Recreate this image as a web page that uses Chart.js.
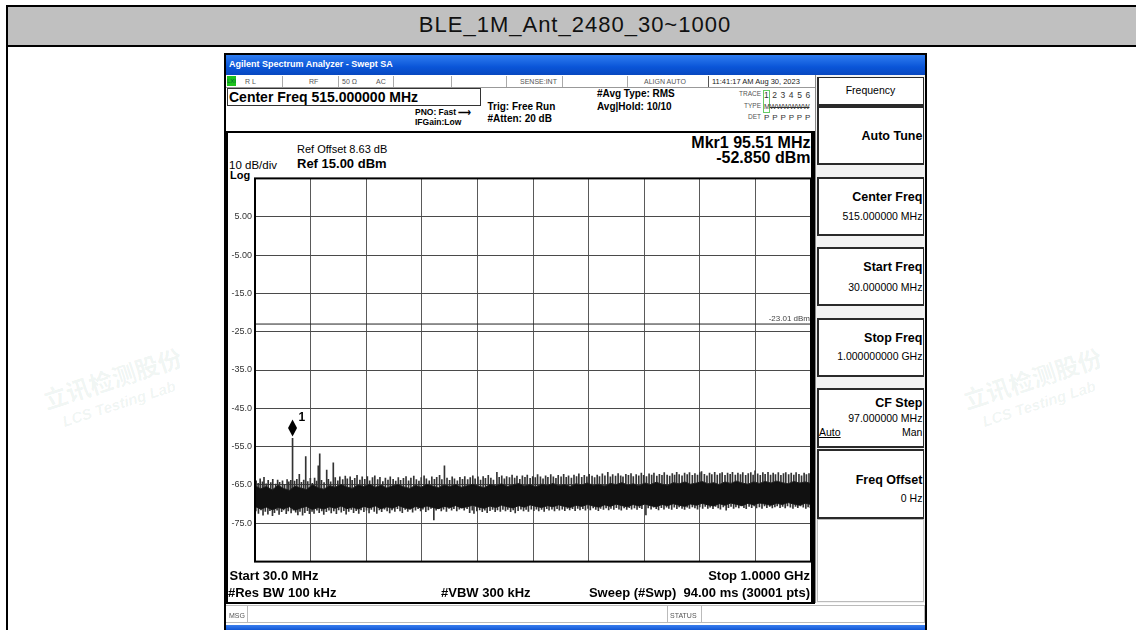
<!DOCTYPE html>
<html lang="en">

<head>
  <meta charset="UTF-8">
  <title>BLE_1M_Ant_2480_30~1000</title>
  <style>
    * { box-sizing: border-box; }
    body { margin: 0; background: #fff; font-family: "Liberation Sans", Arial, sans-serif; }
    #pagina { position: relative; width: 1136px; height: 630px; overflow: hidden; }
    .t { position: absolute; white-space: nowrap; line-height: 1; color: #000; }
    .b { font-weight: bold; }
    .linha { position: absolute; background: #000; }
    .cinza { color: #555; }
    .caixa { position: absolute; left: 817px; width: 107px; background: #fff; border: 2px solid #2a2a2a; border-right-width: 1px; }
    .marca { position: absolute; color: rgba(40, 120, 80, 0.08); transform: rotate(-18deg); font-weight: bold; }
  </style>
</head>

<body>
  <div id="pagina">
    <!-- marcas d'agua -->
    <div class="marca" style="left:40px;top:360px;font:bold 24px 'Noto Sans CJK SC'">立讯检测股份</div>
    <div class="marca" style="left:60px;top:395px;font:italic bold 15px 'Liberation Sans'">LCS Testing Lab</div>
    <div class="marca" style="left:960px;top:360px;font:bold 24px 'Noto Sans CJK SC'">立讯检测股份</div>
    <div class="marca" style="left:980px;top:395px;font:italic bold 15px 'Liberation Sans'">LCS Testing Lab</div>

    <!-- tabela -->
    <div style="position:absolute;left:6px;top:5px;width:1180px;height:700px;border:2px solid #000"></div>
    <div style="position:absolute;left:8px;top:7px;width:1180px;height:40px;background:#c0c0c0;border-bottom:2px solid #000"></div>
    <div class="t" style="left:8px;width:1134px;text-align:center;top:14px;font-size:22px;letter-spacing:1px;color:#111">BLE_1M_Ant_2480_30~1000</div>

    <!-- moldura do analisador -->
    <div style="position:absolute;left:224px;top:53px;width:703px;height:590px;background:#fff;border:2px solid #000"></div>
    <div style="position:absolute;left:226px;top:55px;width:699px;height:20px;background:linear-gradient(#2f7df0,#0a55d8 60%,#0848c0)"></div>
    <div class="t b" style="left:229px;top:60px;font-size:9px;color:#fff">Agilent Spectrum Analyzer - Swept SA</div>

    <!-- linha de status -->
    <div style="position:absolute;left:226px;top:75px;width:589px;height:13px;border-bottom:1px solid #999"></div>
    <div style="position:absolute;left:227px;top:76px;width:9px;height:10px;background:#1cc21c"></div>
    <div class="t" style="left:227px;top:78px;font-size:6px;color:#063">LXI</div>
    <div class="t cinza" style="left:245px;top:77.5px;font-size:7px">R L</div>
    <div class="t cinza" style="left:309px;top:77.5px;font-size:7px">RF</div>
    <div class="t cinza" style="left:342px;top:77.5px;font-size:7px">50 Ω</div>
    <div class="t cinza" style="left:376px;top:77.5px;font-size:7px">AC</div>
    <div class="t cinza" style="left:520px;top:77.5px;font-size:7px">SENSE:INT</div>
    <div class="t cinza" style="left:644px;top:77.5px;font-size:7px">ALIGN AUTO</div>
    <div class="t" style="left:712px;top:77.5px;font-size:7.5px;color:#222">11:41:17 AM Aug 30, 2023</div>
    <div class="linha" style="left:282px;top:76px;width:1px;height:11px;background:#aaa"></div>
    <div class="linha" style="left:338px;top:76px;width:1px;height:11px;background:#aaa"></div>
    <div class="linha" style="left:393px;top:76px;width:1px;height:11px;background:#aaa"></div>
    <div class="linha" style="left:451px;top:76px;width:1px;height:11px;background:#aaa"></div>
    <div class="linha" style="left:506px;top:76px;width:1px;height:11px;background:#aaa"></div>
    <div class="linha" style="left:562px;top:76px;width:1px;height:11px;background:#aaa"></div>
    <div class="linha" style="left:627px;top:76px;width:1px;height:11px;background:#aaa"></div>
    <div class="linha" style="left:708px;top:76px;width:1px;height:11px;background:#555"></div>

    <!-- cabecalho da medida -->
    <div style="position:absolute;left:227px;top:88px;width:254px;height:18px;border:1px solid #333"></div>
    <div class="t b" style="left:229px;top:90px;font-size:14px">Center Freq 515.000000 MHz</div>
    <div class="t b" style="left:415px;top:107.5px;font-size:8.5px">PNO: Fast ⟶</div>
    <div class="t b" style="left:415px;top:117.5px;font-size:8.5px">IFGain:Low</div>
    <div class="t b" style="left:487.5px;top:102.3px;font-size:10px">Trig: Free Run</div>
    <div class="t b" style="left:487.5px;top:114px;font-size:10px">#Atten: 20 dB</div>
    <div class="t b" style="left:597px;top:89.3px;font-size:10px">#Avg Type: RMS</div>
    <div class="t b" style="left:597px;top:101.7px;font-size:10px">Avg|Hold: 10/10</div>
    <div class="t cinza" style="right:375px;top:91px;font-size:6.5px">TRACE</div>
    <div class="t cinza" style="right:375px;top:103px;font-size:6.5px">TYPE</div>
    <div class="t cinza" style="right:375px;top:114px;font-size:6.5px">DET</div>
    <div style="position:absolute;left:763px;top:90px;width:7px;height:23px;border:1px solid #6c6"></div>
    <div class="t" style="left:764px;top:90.5px;font-size:8.5px;color:#333;letter-spacing:0.6px">1 2 3 4 5 6</div>
    <div class="t" style="left:764px;top:102.5px;font-size:7px;color:#333">M<span style="text-decoration:line-through">WWWWWW</span></div>
    <div class="t" style="left:764px;top:113.5px;font-size:8px;color:#333;letter-spacing:0.4px">P P P P P P</div>

    <!-- painel do grafico -->
    <div class="linha" style="left:225px;top:131px;width:590px;height:2px"></div>
    <div class="linha" style="left:225px;top:131px;width:3px;height:473px"></div>
    <div class="linha" style="left:811px;top:131px;width:4px;height:473px"></div>
    <div class="linha" style="left:225px;top:602px;width:590px;height:2px"></div>
    <div class="t b" style="right:325.5px;top:135px;font-size:16px">Mkr1 95.51 MHz</div>
    <div class="t b" style="right:325.5px;top:150px;font-size:16px">-52.850 dBm</div>
    <div class="t" style="left:297px;top:144.2px;font-size:11px">Ref Offset 8.63 dB</div>
    <div class="t b" style="left:297px;top:156.5px;font-size:13px">Ref 15.00 dBm</div>
    <div class="t" style="left:229px;top:159.7px;font-size:11.5px">10 dB/div</div>
    <div class="t b" style="left:230px;top:169.5px;font-size:11px">Log</div>

    <div style="position:absolute;left:228px;top:170px;width:587px;height:400px">
      <canvas id="grafico"></canvas>
    </div>

    <div class="t b" style="left:229.6px;top:569.3px;font-size:13px">Start 30.0 MHz</div>
    <div class="t b" style="right:326px;top:569.3px;font-size:13px">Stop 1.0000 GHz</div>
    <div class="t b" style="left:228px;top:586px;font-size:13px">#Res BW 100 kHz</div>
    <div class="t b" style="left:441px;top:586px;font-size:13px">#VBW 300 kHz</div>
    <div class="t b" style="right:326px;top:586px;font-size:13px">Sweep (#Swp)&nbsp; 94.00 ms (30001 pts)</div>

    <!-- barra de mensagens -->
    <div style="position:absolute;left:226px;top:605px;width:699px;height:18px;border:1px solid #bbb;border-left:none"></div>
    <div class="linha" style="left:247px;top:606px;width:1px;height:16px;background:#bbb"></div>
    <div class="linha" style="left:667px;top:606px;width:1px;height:16px;background:#bbb"></div>
    <div class="linha" style="left:701px;top:606px;width:1px;height:16px;background:#bbb"></div>
    <div class="t cinza" style="left:229px;top:612px;font-size:7px">MSG</div>
    <div class="t cinza" style="left:670px;top:612px;font-size:7px">STATUS</div>
    <div style="position:absolute;left:226px;top:625px;width:699px;height:6px;background:linear-gradient(#3a7ff0,#0a4fcf)"></div>

    <!-- teclas laterais -->
    <div style="position:absolute;left:815px;top:75px;width:110px;height:528px;background:#f2f2f2;border-left:1px solid #888"></div>
    <div class="caixa" style="top:77px;height:29px;border-top-width:1px"></div>
    <div class="caixa" style="top:106px;height:59px"></div>
    <div class="caixa" style="top:177px;height:59px"></div>
    <div class="caixa" style="top:247px;height:59px"></div>
    <div class="caixa" style="top:318px;height:59px"></div>
    <div class="caixa" style="top:388px;height:60px"></div>
    <div class="caixa" style="top:449px;height:70px"></div>
    <div class="caixa" style="top:519px;height:83px;border-color:#bbb;border-width:1px"></div>
    <div class="t" style="left:817px;width:107px;text-align:center;top:84.8px;font-size:10.5px">Frequency</div>
    <div class="t b" style="right:213.6px;top:129.8px;font-size:12.5px">Auto Tune</div>
    <div class="t b" style="right:213.6px;top:190.5px;font-size:12.5px">Center Freq</div>
    <div class="t" style="right:213.6px;top:211.2px;font-size:10.5px">515.000000 MHz</div>
    <div class="t b" style="right:213.6px;top:261px;font-size:12.5px">Start Freq</div>
    <div class="t" style="right:213.6px;top:281.8px;font-size:10.5px">30.000000 MHz</div>
    <div class="t b" style="right:213.6px;top:332px;font-size:12.5px">Stop Freq</div>
    <div class="t" style="right:213.6px;top:351.2px;font-size:10.5px">1.000000000 GHz</div>
    <div class="t b" style="right:213.6px;top:397px;font-size:12.5px">CF Step</div>
    <div class="t" style="right:213.6px;top:412.8px;font-size:10.5px">97.000000 MHz</div>
    <div class="t" style="left:819px;top:427.2px;font-size:10.5px;text-decoration:underline">Auto</div>
    <div class="t" style="right:213.6px;top:427.2px;font-size:10.5px">Man</div>
    <div class="t b" style="right:213.6px;top:473.7px;font-size:12.5px">Freq Offset</div>
    <div class="t" style="right:213.6px;top:492.8px;font-size:10.5px">0 Hz</div>
  </div>

  <script src="https://cdn.jsdelivr.net/npm/chart.js"></script>
  <script>
    // eixos (MHz / dBm)
    var xTicks = [30, 127, 224, 321, 418, 515, 612, 709, 806, 903, 1000];
    var yTicks = [15, 5, -5, -15, -25, -35, -45, -55, -65, -75, -85];
    var yLabels = ['', '5.00', '-5.00', '-15.0', '-25.0', '-35.0', '-45.0', '-55.0', '-65.0', '-75.0', ''];

    // marcador e display line
    var markerFreq = 95.51;
    var markerLevel = -52.85;
    var displayLine = -23.01;

    var coreFreq = [30, 40, 50, 60, 70, 80, 90, 100, 110, 120, 130, 140, 150, 160, 170, 180, 190, 200,
      210, 220, 230, 240, 250, 260, 270, 280, 290, 300, 310, 320, 330, 340, 350, 360, 370, 380, 390, 400,
      410, 420, 430, 440, 450, 460, 470, 480, 490, 500, 510, 520, 530, 540, 550, 560, 570, 580, 590, 600,
      610, 620, 630, 640, 650, 660, 670, 680, 690, 700, 710, 720, 730, 740, 750, 760, 770, 780, 790, 800,
      810, 820, 830, 840, 850, 860, 870, 880, 890, 900, 910, 920, 930, 940, 950, 960, 970, 980, 990, 1000];
    var coreTop = [-65.2, -66.0, -65.4, -66.3, -65.1, -65.9, -66.4, -65.3, -65.8, -66.2, -65.0, -65.7, -66.1, -65.2, -65.6, -64.9, -65.5, -65.9,
      -65.0, -65.4, -64.8, -65.6, -65.1, -65.8, -65.2, -64.9, -65.5, -65.9, -65.1, -65.6, -64.8, -65.3, -65.7, -65.0, -65.4, -64.9, -65.6, -65.2,
      -64.8, -65.3, -65.7, -64.9, -65.2, -64.7, -65.4, -65.0, -64.6, -65.3, -64.9, -65.5, -64.8, -65.1, -64.6, -65.2, -64.9, -65.4, -64.7, -65.0,
      -64.5, -65.1, -64.8, -65.3, -64.6, -64.9, -64.4, -65.0, -64.7, -65.2, -64.5, -64.9, -64.3, -64.8, -65.1, -64.4, -64.7, -64.2, -64.8, -64.5,
      -64.1, -64.7, -64.4, -64.9, -64.2, -64.6, -64.0, -64.5, -64.8, -64.2, -64.6, -64.1, -64.5, -64.0, -64.4, -64.7, -64.1, -64.5, -64.2, -64.6];
    var coreBottom = [-70.6, -71.3, -70.8, -71.5, -70.9, -71.2, -70.7, -71.6, -71.0, -70.6, -71.4, -70.9, -71.3, -70.7, -71.1, -70.5, -71.2, -70.8,
      -71.3, -70.6, -71.0, -70.5, -71.2, -70.7, -71.1, -70.4, -70.9, -71.3, -70.6, -71.0, -70.5, -70.9, -71.2, -70.6, -70.9, -70.4, -71.0, -70.7,
      -70.3, -70.8, -71.1, -70.5, -70.9, -70.3, -70.7, -71.0, -70.4, -70.8, -70.2, -70.6, -70.9, -70.4, -70.7, -70.2, -70.6, -70.9, -70.3, -70.6,
      -70.1, -70.5, -70.8, -70.2, -70.6, -70.0, -70.4, -70.7, -70.1, -70.5, -70.0, -70.4, -70.7, -70.1, -70.4, -69.9, -70.3, -70.6, -70.0, -70.3,
      -69.8, -70.2, -70.5, -69.9, -70.3, -69.7, -70.1, -70.4, -69.8, -70.2, -69.7, -70.0, -70.3, -69.8, -70.1, -69.6, -70.0, -70.3, -69.8, -70.1];
    var coreMid = -67.5;

    // picos acima da faixa
    var upFreq = [32, 35.5, 39, 43, 45.7, 49.5, 53, 57.5, 61, 66, 69.5, 73, 78, 81.5, 86, 89, 92.5, 95.51, 99, 103,
      107.3, 111, 115, 118.5, 122, 126.5, 130, 134, 137.5, 140.4, 142.9, 146, 150.5, 155.1, 158, 162, 166.6, 170, 174.5, 178,
      183, 187.5, 191, 196, 199.5, 204, 208, 213, 217, 221.5, 226, 230, 235, 239, 244, 248, 253, 257.5, 262, 266,
      271, 275.5, 280, 284, 289, 293.5, 298, 302, 307, 311.5, 316, 320, 325, 329, 334, 338.5, 343, 347, 352, 356,
      360.5, 365, 369.5, 374, 378, 383, 387.5, 392, 396, 401, 405.5, 410, 414, 419, 423.5, 428, 432, 437, 441.5, 446,
      452, 456, 460.5, 465, 469, 474, 478.5, 483, 487, 492, 496.5, 501, 505, 510, 514.5, 519, 523, 528, 532.5, 537,
      541, 546, 550.5, 555, 559, 564, 568.5, 573, 577, 582, 586.5, 591, 595, 600, 604.5, 609, 613, 618, 622.5, 627,
      631, 636, 640.5, 645.5, 650, 654, 659, 663.5, 668, 672, 677, 681.5, 686, 690, 695, 699.5, 704, 708, 713, 717.5,
      722, 726, 731, 735.5, 740, 744, 749, 753.5, 758, 762, 765.7, 770, 775, 779.5, 784, 788, 793, 797.5, 802, 806,
      809, 814, 818.5, 823, 827, 832, 836.5, 841, 845, 850, 854.5, 859, 863, 868, 872.5, 877, 881, 886, 890.5, 895,
      899, 902.5, 907, 911.5, 916, 920, 925, 929.5, 934, 938, 943, 947.5, 952, 956, 961, 965.5, 970, 974, 979, 983.5,
      988, 992, 996.5];
    var upTop = [-63.9, -64.6, -63.4, -64.2, -63.0, -64.7, -63.8, -64.4, -63.5, -64.8, -63.7, -64.3, -63.9, -64.9, -63.6, -64.2, -63.8, -52.85, -64.0, -63.5,
      -62.2, -64.3, -63.7, -57.6, -64.1, -63.3, -64.6, -63.2, -64.0, -60.0, -56.9, -63.8, -64.4, -61.1, -63.5, -64.2, -59.2, -63.1, -63.9, -62.9,
      -63.6, -62.7, -63.4, -62.9, -63.8, -63.3, -62.5, -63.7, -62.9, -63.5, -62.8, -63.9, -63.1, -62.6, -63.6, -63.0, -64.1, -63.2, -63.7, -62.9,
      -63.5, -64.0, -63.1, -63.8, -63.3, -62.8, -63.9, -63.2, -62.7, -63.6, -64.0, -63.1, -62.6, -63.4, -63.9, -62.9, -63.5, -63.0, -62.5, -63.6,
      -60.0, -63.2, -63.8, -62.9, -63.4, -63.9, -63.0, -63.5, -62.8, -63.6, -63.1, -62.6, -63.4, -62.9, -63.7, -62.8, -63.3, -62.5, -63.2, -63.7,
      -61.7, -63.0, -62.6, -63.4, -62.8, -63.1, -62.4, -63.2, -62.7, -63.5, -62.6, -63.0, -62.4, -63.3, -62.8, -63.1, -62.3, -62.9, -63.4, -62.6,
      -63.0, -62.3, -62.9, -63.3, -62.5, -62.9, -62.2, -63.0, -62.6, -63.2, -62.4, -62.8, -62.1, -63.0, -62.5, -62.9, -62.2, -62.7, -63.1, -62.4,
      -62.8, -62.1, -62.6, -61.7, -62.9, -62.3, -62.7, -62.0, -62.6, -62.9, -62.2, -62.5, -62.0, -62.8, -62.3, -62.6, -61.9, -62.5, -62.8, -62.1,
      -62.4, -61.9, -62.7, -62.2, -62.5, -61.8, -62.4, -62.7, -62.0, -62.4, -61.7, -62.3, -62.6, -61.9, -62.3, -61.8, -62.5, -62.0, -62.4, -61.8,
      -61.5, -62.2, -62.6, -61.9, -62.3, -61.7, -62.4, -62.0, -61.8, -62.5, -61.9, -62.2, -61.7, -62.4, -61.9, -62.3, -61.8, -62.5, -62.0, -61.8,
      -62.4, -61.3, -62.1, -62.5, -61.8, -62.2, -61.7, -62.4, -61.9, -62.3, -61.8, -62.5, -62.0, -61.8, -62.3, -61.9, -62.4, -61.8, -62.2, -62.6,
      -61.9, -62.3, -62.0];

    // picos abaixo da faixa
    var downFreq = [31.5, 36, 40.5, 44, 48, 52.5, 56, 60.5, 64, 68.5, 72, 76.5, 80, 84.5, 88, 93, 97, 101, 104.8, 108.5,
      113, 117, 121.5, 125, 129.5, 133, 138, 142, 146.5, 150, 154.5, 159, 163, 167.5, 172, 176, 180.5, 185, 189, 193.5,
      198, 202, 206.5, 211, 215, 220, 224.5, 229, 233, 238, 242.5, 247, 251, 256, 260.5, 265, 269, 274, 278.5, 283,
      287, 292, 296.5, 301, 305, 310, 314.5, 319, 323, 328, 332.5, 337, 342, 346, 350.5, 355, 359, 364, 368.5, 373,
      377, 382, 386.5, 391, 395, 400, 404.5, 409, 412, 417, 422, 426.5, 431, 435, 440, 444.5, 449, 453, 458, 462.5,
      467, 471, 476, 480.5, 484, 489, 494, 498.5, 503, 507, 512, 516.5, 521, 525, 530, 534.5, 539, 543, 548, 552.5,
      557, 561, 566, 570.5, 575, 579, 584, 588.5, 593, 597, 602, 606.5, 611, 615, 620, 624.5, 629, 633, 638, 642.5,
      647, 651, 656, 660.5, 665, 669, 674, 678.5, 683, 687, 692, 696.5, 701, 705, 712, 716, 721, 725.5, 730, 734,
      739, 743.5, 748, 752, 757, 761.5, 766, 770, 775, 779.5, 784, 788, 793, 797.5, 802, 806, 811, 815.5, 820, 824,
      829, 833.5, 838, 842, 847, 852, 856, 860.5, 865, 869, 874, 878.5, 883, 887, 892, 896.5, 901, 905, 910, 914.5,
      919, 923, 928, 932.5, 937, 941, 946, 950.5, 955, 959, 964, 968.5, 973, 977, 982, 986.5, 991, 995, 999];
    var downBottom = [-71.8, -72.4, -71.5, -72.9, -71.9, -72.6, -71.7, -73.0, -72.2, -71.6, -72.7, -72.0, -71.5, -72.5, -71.8, -72.3, -71.6, -72.1, -72.8, -71.9,
      -72.9, -72.2, -71.7, -72.5, -71.9, -72.4, -71.6, -72.2, -71.8, -72.7, -72.0, -71.6, -72.3, -71.8, -72.5, -71.5, -72.1, -71.7, -72.6, -71.9,
      -71.4, -72.2, -71.7, -72.4, -71.5, -72.0, -71.6, -72.3, -71.4, -71.9, -72.4, -71.5, -72.0, -71.3, -71.8, -72.3, -71.5, -71.9, -71.2, -71.8,
      -72.2, -71.4, -71.9, -71.3, -72.1, -71.6, -71.2, -71.8, -71.3, -72.0, -71.5, -71.1, -74.1, -71.6, -71.2, -71.8, -71.3, -71.9, -71.1, -71.6,
      -71.2, -71.8, -71.3, -71.0, -71.6, -71.2, -72.2, -71.6, -72.4, -71.8, -71.5, -72.0, -71.6, -72.2, -71.7, -71.4, -72.0, -71.5, -71.9, -71.4,
      -71.8, -71.4, -72.0, -71.5, -72.3, -71.7, -71.3, -71.8, -71.4, -71.9, -71.3, -71.7, -71.3, -71.8, -71.4, -71.9, -71.2, -71.6, -71.3, -71.8,
      -71.2, -71.6, -71.3, -71.7, -71.1, -71.5, -71.2, -71.7, -71.1, -71.5, -71.2, -71.6, -71.1, -71.5, -71.0, -71.4, -71.7, -71.1, -71.4, -71.0,
      -71.5, -71.1, -71.4, -70.9, -71.3, -71.6, -71.0, -71.4, -70.9, -71.3, -71.0, -71.4, -70.9, -71.2, -72.8, -71.0, -71.3, -70.8, -71.2, -71.5,
      -70.9, -71.3, -70.8, -71.1, -71.4, -70.8, -71.2, -70.7, -71.1, -71.4, -70.8, -71.1, -70.7, -71.0, -71.3, -70.7, -71.1, -70.6, -71.1, -70.8,
      -71.2, -70.6, -71.0, -71.3, -70.7, -71.6, -70.9, -70.6, -71.1, -70.7, -71.0, -70.5, -70.9, -71.2, -70.6, -70.9, -70.5, -71.0, -70.7, -71.1,
      -70.5, -70.9, -70.6, -71.0, -70.7, -70.5, -70.9, -70.6, -71.0, -70.5, -70.8, -71.1, -70.6, -70.9, -70.5, -70.8, -71.1, -70.7, -70.9];

    var fonteEixo = { family: "'Liberation Sans', Arial, sans-serif", size: 9 };

    // moldura, marcador e rotulo da display line
    var marcadorPlugin = {
      id: 'marcador',
      afterDatasetsDraw: function (chart) {
        var ctx = chart.ctx;
        var area = chart.chartArea;
        var x = chart.scales.x, y = chart.scales.y;
        var px = x.getPixelForValue(markerFreq);
        var py = y.getPixelForValue(markerLevel);
        ctx.save();
        ctx.fillStyle = '#000';
        ctx.beginPath();
        ctx.moveTo(px, py - 19);
        ctx.lineTo(px + 4.5, py - 10.5);
        ctx.lineTo(px, py - 2);
        ctx.lineTo(px - 4.5, py - 10.5);
        ctx.closePath();
        ctx.fill();
        ctx.font = "bold 12px 'Liberation Sans', Arial";
        ctx.textBaseline = 'middle';
        ctx.fillText('1', px + 6, py - 21);

        var pl = y.getPixelForValue(displayLine);
        ctx.font = "8px 'Liberation Sans', Arial";
        ctx.fillStyle = '#444';
        ctx.textAlign = 'right';
        ctx.fillText(displayLine.toFixed(2) + ' dBm', area.right - 1, pl - 5);

        ctx.strokeStyle = '#000';
        ctx.lineWidth = 2;
        ctx.strokeRect(area.left, area.top, area.right - area.left, area.bottom - area.top);
        ctx.restore();
      }
    };

    var grafico = new Chart(document.getElementById('grafico'), {
      type: 'line',
      data: {
        datasets: [
          {
            data: coreFreq.map(function (f, i) { return { x: f, y: coreTop[i] }; }),
            fill: '+1', backgroundColor: '#111', borderColor: '#222', borderWidth: 1, pointRadius: 0
          },
          {
            data: coreFreq.map(function (f, i) { return { x: f, y: coreBottom[i] }; }),
            fill: false, borderColor: '#222', borderWidth: 1, pointRadius: 0
          },
          {
            type: 'bar', grouped: false, barThickness: 1, backgroundColor: '#333',
            data: upFreq.map(function (f, i) { return { x: f, y: [coreMid, upTop[i]] }; })
          },
          {
            type: 'bar', grouped: false, barThickness: 1, backgroundColor: '#333',
            data: downFreq.map(function (f, i) { return { x: f, y: [downBottom[i], coreMid] }; })
          },
          {
            data: [{ x: xTicks[0], y: displayLine }, { x: xTicks[xTicks.length - 1], y: displayLine }],
            borderColor: '#222', borderWidth: 1, pointRadius: 0, fill: false
          }
        ]
      },
      options: {
        responsive: true,
        maintainAspectRatio: false,
        animation: false,
        devicePixelRatio: 1,
        layout: { padding: { top: 5, right: 4, bottom: 4, left: 0 } },
        plugins: { legend: { display: false }, tooltip: { enabled: false } },
        scales: {
          x: {
            type: 'linear', min: 30, max: 1000, offset: false,
            grid: { color: '#5a5a5a', lineWidth: 1, drawTicks: false, offset: false },
            border: { display: false },
            ticks: { display: false },
            afterBuildTicks: function (s) { s.ticks = xTicks.map(function (v) { return { value: v }; }); },
            afterFit: function (s) { s.height = 0; }
          },
          y: {
            min: -85, max: 15,
            grid: { color: '#4a4a4a', lineWidth: 1, drawTicks: false },
            border: { display: false },
            ticks: {
              padding: 3, color: '#333', font: fonteEixo,
              callback: function (v) { return yLabels[yTicks.indexOf(v)]; }
            },
            afterBuildTicks: function (s) { s.ticks = yTicks.map(function (v) { return { value: v }; }); },
            afterFit: function (s) { s.width = 27; }
          }
        }
      },
      plugins: [marcadorPlugin]
    });
  </script>
</body>

</html>
